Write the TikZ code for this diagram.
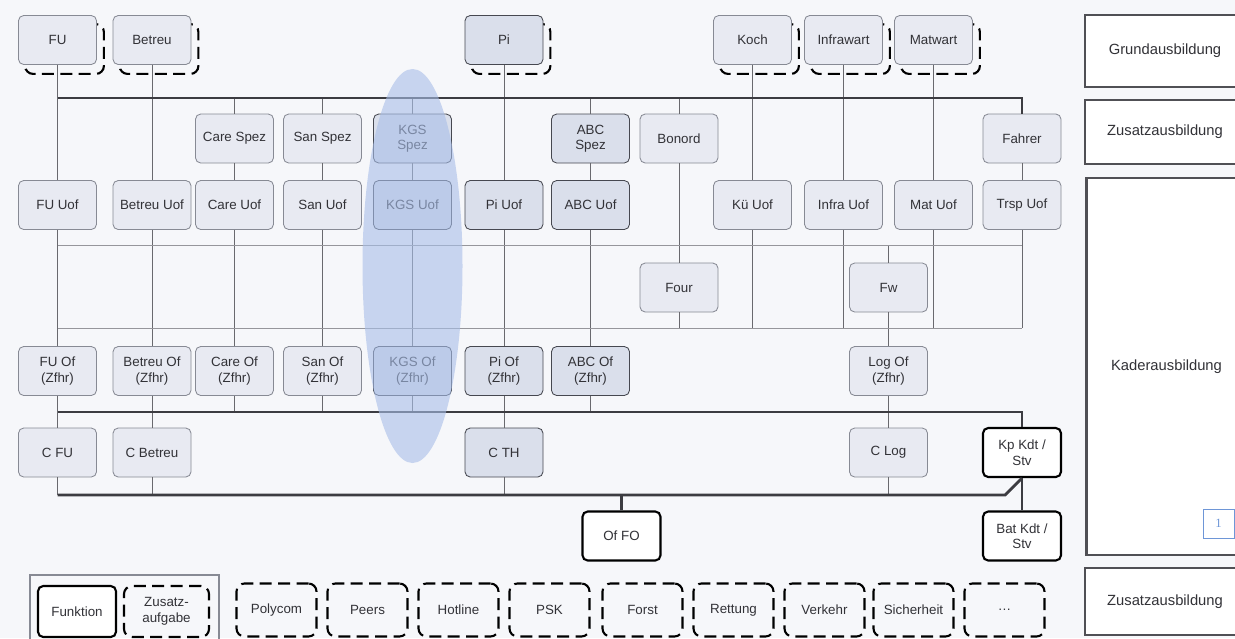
\documentclass[tikz,border=0pt]{standalone}
\usepackage{fontspec}
\setmainfont{Liberation Sans}
\newfontfamily\seitenfont{Liberation Serif}
\usetikzlibrary{backgrounds}

\definecolor{hgrund}{RGB}{246,247,250}
\definecolor{boxfill}{RGB}{232,234,242}
\definecolor{boxline}{RGB}{135,138,148}
\definecolor{boxfilldk}{RGB}{218,223,235}
\definecolor{boxdark}{RGB}{70,72,80}
\definecolor{txt}{RGB}{50,50,55}
\definecolor{conn}{RGB}{105,105,110}
\definecolor{ebenegrau}{RGB}{150,150,155}
\definecolor{busline}{RGB}{60,60,65}
\definecolor{stufeline}{RGB}{80,80,85}
\definecolor{kgsblau}{RGB}{168,190,232}
\definecolor{seitenblau}{RGB}{110,150,215}

\begin{document}
\begin{tikzpicture}
  [x=0.25mm,y=-0.25mm,
   fkt/.style={draw=boxline,fill=boxfill,rounded corners=1.3mm,line width=0.6pt,
     minimum width=19.5mm,minimum height=12.25mm,inner sep=1pt,align=center,
     text=txt,font=\fontsize{9.5}{11}\selectfont},
   fktdk/.style={fkt,draw=boxdark,fill=boxfilldk},
   kdt/.style={fkt,draw=black,fill=white,line width=1.5pt},
   zusatz/.style={fkt,draw=black,fill=none,line width=1.5pt,dash pattern=on 3mm off 1.6mm,
     rounded corners=2mm,minimum width=20mm,minimum height=13.25mm},
   zlinie/.style={draw=black,line width=1.5pt,dash pattern=on 3mm off 1.6mm,rounded corners=2mm},
   stufe/.style={draw=stufeline,fill=white,line width=1.5pt,minimum width=40mm,
     text=txt,font=\fontsize{10.5}{12}\selectfont},
   verb/.style={draw=conn,line width=0.7pt},
   ebene/.style={draw=ebenegrau,line width=0.6pt},
   bus/.style={draw=busline,line width=2pt}]
  \useasboundingbox (0,0) rectangle (1235,638);
  \clip (0,0) rectangle (1235,638);

  % Grundausbildung
  \node[fkt] (fu) at (57.5,40) {FU};
  \node[fkt] (betreu) at (152,40) {Betreu};
  \node[fktdk] (pi) at (504,40) {Pi};
  \node[fkt] (koch) at (752.5,40) {Koch};
  \node[fkt] (infrawart) at (843.5,40) {Infrawart};
  \node[fkt] (matwart) at (933.5,40) {Matwart};

  % Spezialisten
  \node[fkt] (carespez) at (234.5,138.5) {Care Spez};
  \node[fkt] (sanspez) at (322.5,138.5) {San Spez};
  \node[fktdk] (kgsspez) at (412.5,138.5) {KGS\\Spez};
  \node[fktdk] (abcspez) at (590.5,138.5) {ABC\\Spez};
  \node[fkt] (bonord) at (679,138.5) {Bonord};
  \node[fkt] (fahrer) at (1022,138.5) {Fahrer};

  % Uof
  \node[fkt] (fuuof) at (57.5,205) {FU Uof};
  \node[fkt] (betreuuof) at (152,205) {Betreu Uof};
  \node[fkt] (careuof) at (234.5,205) {Care Uof};
  \node[fkt] (sanuof) at (322.5,205) {San Uof};
  \node[fktdk] (kgsuof) at (412.5,205) {KGS Uof};
  \node[fktdk] (piuof) at (504,205) {Pi Uof};
  \node[fktdk] (abcuof) at (590.5,205) {ABC Uof};
  \node[fkt] (kuuof) at (752.5,205) {Kü Uof};
  \node[fkt] (infrauof) at (843.5,205) {Infra Uof};
  \node[fkt] (matuof) at (933.5,205) {Mat Uof};
  \node[fkt] (trspuof) at (1022,205) {Trsp Uof};

  \node[fkt] (four) at (679,287.5) {Four};
  \node[fkt] (fw) at (888.5,287.5) {Fw};

  % Of
  \node[fkt] (fuof) at (57.5,371) {FU Of\\(Zfhr)};
  \node[fkt] (betreuof) at (152,371) {Betreu Of\\(Zfhr)};
  \node[fkt] (careof) at (234.5,371) {Care Of\\(Zfhr)};
  \node[fkt] (sanof) at (322.5,371) {San Of\\(Zfhr)};
  \node[fktdk] (kgsof) at (412.5,371) {KGS Of\\(Zfhr)};
  \node[fktdk] (piof) at (504,371) {Pi Of\\(Zfhr)};
  \node[fktdk] (abcof) at (590.5,371) {ABC Of\\(Zfhr)};
  \node[fkt] (logof) at (888.5,371) {Log Of\\(Zfhr)};

  \node[fkt] (cfu) at (57.5,452.5) {C FU};
  \node[fkt] (cbetreu) at (152,452.5) {C Betreu};
  \node[fktdk] (cth) at (504,452.5) {C TH};
  \node[fkt] (clog) at (888.5,452.5) {C Log};
  \node[kdt] (kpkdt) at (1022,452.5) {Kp Kdt /\\Stv};

  \node[kdt] (offo) at (621.5,536) {Of FO};
  \node[kdt] (batkdt) at (1022,536) {Bat Kdt /\\Stv};

  % Legende und Zusatzaufgaben
  \node[draw=boxline,line width=1.2pt,minimum width=47.25mm,minimum height=18.5mm] (legende) at (124.5,612) {};
  \node[kdt,minimum height=12.75mm] (funktion) at (77,611.5) {Funktion};
  \node[zusatz,minimum width=21.25mm,minimum height=12.75mm] (zaufgabe) at (166.5,611.5) {Zusatz-\\aufgabe};
  \foreach \name/\text/\x in {polycom/Polycom/276.5, peers/Peers/367.5, hotline/Hotline/458.5,
      psk/PSK/549.5, forst/Forst/642.5, rettung/Rettung/733.5, verkehr/Verkehr/824.5,
      sicherheit/Sicherheit/913.5}
    \node[zusatz] (\name) at (\x,610) {\text};
  \node[zusatz] (weitere) at (1004.5,610) {\ldots};

  % Ausbildungsstufen
  \node[stufe,minimum height=18mm] (grund) at (1165,51) {Grundausbildung};
  \node[stufe,minimum height=16mm] (zusatzausb) at (1165,132) {Zusatzausbildung};
  \node[stufe,minimum height=94.25mm] (kader) at (1166.5,366.5) {Kaderausbildung};
  \node[stufe,minimum height=16.75mm] (zusatzausbb) at (1165,601.5) {Zusatzausbildung};
  \node[draw=seitenblau,fill=white,line width=0.6pt,minimum width=7.75mm,minimum height=7.25mm,
    text=seitenblau,font=\seitenfont\fontsize{9}{10}\selectfont] (seite) at (1218.5,523.5) {1};

  \begin{scope}[on background layer]
    \fill[hgrund] (0,0) rectangle (1235,638);
    \foreach \n in {fu,betreu,pi,koch,infrawart,matwart}
      \draw[zlinie] ([shift={(7,9)}]\n.north west) rectangle ([shift={(7,9)}]\n.south east);
  \end{scope}

  \coordinate (b1w) at (57.5,98);  \coordinate (b1e) at (1022,98);
  \coordinate (l1w) at (57.5,245); \coordinate (l1e) at (1022,245);
  \coordinate (l2w) at (57.5,328); \coordinate (l2e) at (1022,328);
  \coordinate (b2w) at (57.5,412); \coordinate (b2e) at (1022,412);
  \coordinate (b3w) at (57.5,495); \coordinate (b3e) at (1005,495);

  \foreach \von/\nach in {fu/fuuof,fuuof/fuof,fuof/cfu,betreu/betreuuof,betreuuof/betreuof,
      betreuof/cbetreu,carespez/careuof,careuof/careof,sanspez/sanuof,sanuof/sanof,
      kgsspez/kgsuof,kgsuof/kgsof,pi/piuof,piuof/piof,piof/cth,abcspez/abcuof,abcuof/abcof,
      bonord/four,koch/kuuof,infrawart/infrauof,matwart/matuof,fahrer/trspuof,fw/logof,logof/clog}
    \draw[verb] (\von) -- (\nach);

  \foreach \n in {carespez,sanspez,kgsspez,abcspez,bonord}
    \draw[verb] (\n) -- (\n |- b1w);
  \foreach \n in {four,kuuof,infrauof,matuof,trspuof}
    \draw[verb] (\n) -- (\n |- l2w);
  \foreach \n in {careof,sanof,kgsof,abcof}
    \draw[verb] (\n) -- (\n |- b2w);
  \foreach \n in {cfu,cbetreu,cth,clog}
    \draw[verb] (\n) -- (\n |- b3w);
  \draw[verb] (fw) -- (fw |- l1w);

  \draw[ebene] (l1w) -- (l1e);
  \draw[ebene] (l2w) -- (l2e);

  \draw[bus] (b1w) -- (b1e) -- (fahrer);
  \draw[bus] (b2w) -- (b2e) -- (kpkdt);
  \draw[bus] (b3w) -- (b3e) -- (kpkdt.south);
  \draw[bus] (kpkdt) -- (batkdt);
  \draw[bus] (offo) -- (offo |- b3w);

  % KGS hervorgehoben
  \fill[kgsblau,opacity=0.6] (412.5,266) ellipse [x radius=12.5mm,y radius=49.25mm];
\end{tikzpicture}
\end{document}
